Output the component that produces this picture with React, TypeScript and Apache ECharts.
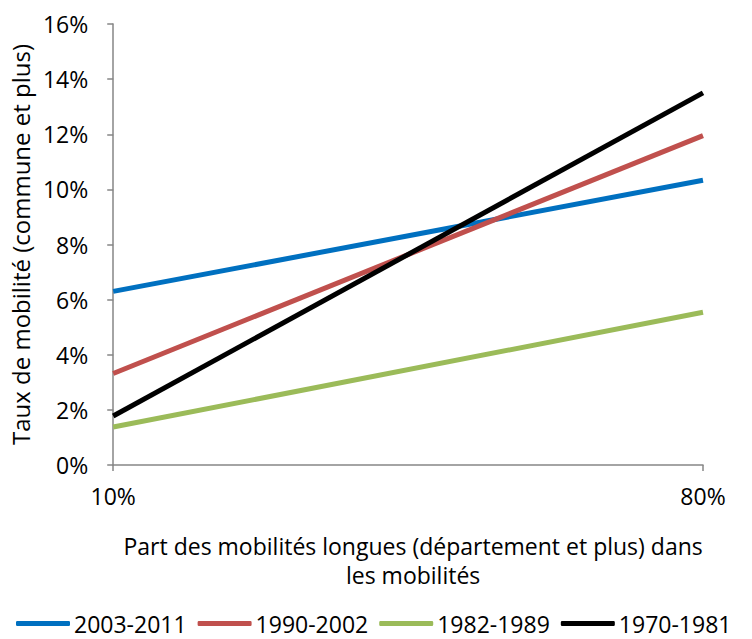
import React, { useEffect, useRef } from "react";
import * as echarts from "echarts";

const categories = ["10%", "80%"];
const seriesNames = ["2003-2011", "1990-2002", "1982-1989", "1970-1981"];
const values2003_2011 = [0.063, 0.1033];
const values1990_2002 = [0.0332, 0.1195];
const values1982_1989 = [0.0138, 0.0554];
const values1970_1981 = [0.0178, 0.135];
const colors = ["#0070C0", "#C0504D", "#9BBB59", "#000000"];

const FONT = "'Open Sans', sans-serif";

export default function App() {
  const ref = useRef<HTMLDivElement>(null);
  useEffect(() => {
    if (!ref.current) return;
    const chart = echarts.init(ref.current, null, { renderer: "svg" });
    const data = [values2003_2011, values1990_2002, values1982_1989, values1970_1981];
    chart.setOption({
      animation: false,
      textStyle: { fontFamily: FONT, color: "#000" },
      grid: { left: 113, right: 49, top: 24, bottom: 174 },
      legend: {
        left: 16,
        top: 612,
        width: 760,
        padding: 0,
        itemWidth: 54,
        itemHeight: 5,
        itemGap: 11,
        icon: "roundRect",
        textStyle: { fontFamily: FONT, fontSize: 23, lineHeight: 22, color: "#000", padding: [0, 0, 0, -1] },
        data: seriesNames,
      },
      xAxis: {
        type: "category",
        data: categories,
        boundaryGap: false,
        axisLine: { lineStyle: { color: "#868686", width: 1.5 } },
        axisTick: { show: true, length: 6, lineStyle: { color: "#868686", width: 1.5 } },
        axisLabel: { fontFamily: FONT, fontSize: 23, color: "#000", margin: 19 },
        name: "Part des mobilités longues (département et plus) dans\nles mobilités",
        nameLocation: "middle",
        nameGap: 66,
        nameTextStyle: { fontFamily: FONT, fontSize: 23, color: "#000", lineHeight: 29, padding: [0, 0, 0, 10] },
      },
      yAxis: {
        type: "value",
        min: 0,
        max: 0.16,
        interval: 0.02,
        splitLine: { show: false },
        axisLine: { show: true, lineStyle: { color: "#868686", width: 1.5 } },
        axisTick: { show: true, length: 6, lineStyle: { color: "#868686", width: 1.5 } },
        axisLabel: {
          fontFamily: FONT,
          fontSize: 23,
          color: "#000",
          margin: 25,
          formatter: (v: number) => Math.round(v * 100) + "%",
        },
        name: "Taux de mobilité (commune et plus)",
        nameLocation: "middle",
        nameRotate: 90,
        nameGap: 70,
        nameTextStyle: { fontFamily: FONT, fontSize: 24, color: "#000" },
      },
      series: seriesNames.map((n, i) => ({
        name: n,
        type: "line",
        data: data[i],
        symbol: "none",
        lineStyle: { color: colors[i], width: 5 },
        itemStyle: { color: colors[i] },
      })),
    });
    return () => chart.dispose();
  }, []);
  return <div ref={ref} style={{ width: 752, height: 639, position: "absolute", left: 0, top: 0 }} />;
}
